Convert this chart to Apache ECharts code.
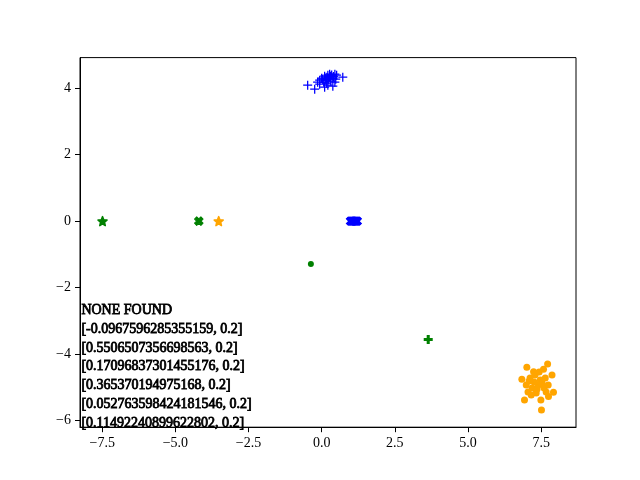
<!DOCTYPE html>
<html><head><meta charset="utf-8">
<script src="https://cdn.jsdelivr.net/npm/echarts@6/dist/echarts.min.js"></script>
<style>html,body{margin:0;padding:0;background:#fff}#c{width:640px;height:480px}</style>
</head><body><div id="c"></div>
<script>
// ---- data ----
const bluePlusX = [-0.48,-0.24,0.10,0.38,0.72,0.51,-0.07,0.00,0.10,0.21,0.27,0.34,0.45,0.14,0.24,0.31,0.07,-0.14,0.17,0.38,0.48,0.27,0.03,-0.07,0.21,0.45,0.30,0.18,0.40,0.12];
const bluePlusY = [4.09,3.97,4.03,4.06,4.33,4.39,4.24,4.30,4.36,4.39,4.42,4.40,4.42,4.24,4.27,4.21,4.18,4.18,4.15,4.30,4.27,4.33,4.27,4.12,4.09,4.18,4.36,4.33,4.35,4.28];
const blueXMarkX = [0.98,1.00,1.02,1.04,1.06,1.08,1.10,1.12,1.14,1.16,1.18,1.20,1.22];
const blueXMarkY = [0,0,0,0,0,0,0,0,0,0,0,0,0];
const orangeDotX = [7.01,7.72,7.58,7.24,7.87,6.84,7.92,6.93,7.49,7.75,7.51,7.12,7.29,7.47,7.64,7.40,7.19,7.60,7.05,7.33,7.53,7.26,7.74,6.99,7.43,7.16,7.67,7.36,7.09];
const orangeDotY = [-4.40,-4.30,-4.46,-4.53,-4.63,-4.76,-5.15,-5.38,-5.38,-5.28,-5.68,-4.72,-4.63,-4.78,-4.72,-4.93,-5.02,-5.02,-5.14,-5.17,-4.87,-4.84,-4.93,-4.93,-4.54,-5.23,-5.14,-5.05,-4.81];
const greenStar = [[-7.49, 0]];
const greenX = [[-4.20, 0]];
const orangeStar = [[-3.52, 0]];
const greenDot = [[-0.37, -1.29]];
const greenPlus = [[3.64, -3.56]];
const xTicks = [-7.5,-5,-2.5,0,2.5,5,7.5];
const yTicks = [-6,-4,-2,0,2,4];
const noteLines = ['NONE FOUND','[-0.0967596285355159, 0.2]','[0.5506507356698563, 0.2]','[0.17096837301455176, 0.2]','[0.365370194975168, 0.2]','[0.052763598424181546, 0.2]','[0.11492240899622802, 0.2]'];

const zip = (a, b) => a.map((v, i) => [v, b[i]]);

// ---- symbols ----
function starPath() {
  const pts = [];
  for (let i = 0; i < 10; i++) {
    const r = i % 2 === 0 ? 50 : 22;
    const a = -Math.PI / 2 + i * Math.PI / 5;
    pts.push((50 + r * Math.cos(a)).toFixed(2) + ',' + (50 + r * Math.sin(a)).toFixed(2));
  }
  return 'path://M' + pts.join(' L') + ' Z';
}
const STAR = starPath();
const THIN_PLUS = 'path://M0,43 L100,43 L100,57 L0,57 Z M43,0 L57,0 L57,100 L43,100 Z';
const THICK_PLUS = 'path://M33,0 L67,0 L67,33 L100,33 L100,67 L67,67 L67,100 L33,100 L33,67 L0,67 L0,33 L33,33 Z';

const FONT = '"Liberation Serif", "Times New Roman", serif';
const fmt = v => (v < 0 ? '\u2212' : '') + Math.abs(v);

const chart = echarts.init(document.getElementById('c'), null, {renderer: 'canvas'});
chart.setOption({
  animation: false,
  backgroundColor: '#fff',
  grid: {left: 80, right: 64, top: 57.6, bottom: 52.8, show: true, borderColor: '#000', borderWidth: 1, backgroundColor: 'transparent'},
  xAxis: {
    type: 'value', min: -8.26, max: 8.69,
    splitLine: {show: false},
    axisLine: {show: true, onZero: false, lineStyle: {color: '#000', width: 1}},
    axisTick: {show: true, inside: false, length: 5, lineStyle: {color: '#000'}, customValues: xTicks},
    axisLabel: {customValues: xTicks, color: '#000', fontFamily: FONT, fontSize: 14, margin: 9,
      formatter: v => (v < 0 ? '\u2212' : '') + Math.abs(v).toFixed(1)}
  },
  yAxis: {
    type: 'value', min: -6.2, max: 4.92,
    splitLine: {show: false},
    axisLine: {show: true, onZero: false, lineStyle: {color: '#000', width: 1}},
    axisTick: {show: true, inside: false, length: 5, lineStyle: {color: '#000'}, customValues: yTicks},
    axisLabel: {customValues: yTicks, color: '#000', fontFamily: FONT, fontSize: 14, margin: 9, formatter: fmt}
  },
  series: [
    {type: 'scatter', data: zip(bluePlusX, bluePlusY), symbol: THIN_PLUS, symbolSize: 9, itemStyle: {color: '#0000ff', opacity: 1}},
    {type: 'scatter', data: zip(blueXMarkX, blueXMarkY), symbol: THICK_PLUS, symbolSize: 10, symbolRotate: 45, itemStyle: {color: '#0000ff', opacity: 1}},
    {type: 'scatter', data: zip(orangeDotX, orangeDotY), symbol: 'circle', symbolSize: 7, itemStyle: {color: '#ffa500', opacity: 1}},
    {type: 'scatter', data: greenStar, symbol: STAR, symbolSize: 9, itemStyle: {color: '#008000', opacity: 1, borderColor: '#008000', borderWidth: 1.5, borderJoin: 'round'}},
    {type: 'scatter', data: greenX, symbol: THICK_PLUS, symbolSize: 9, symbolRotate: 45, itemStyle: {color: '#008000', opacity: 1, borderColor: '#008000', borderWidth: 1, borderJoin: 'round'}},
    {type: 'scatter', data: orangeStar, symbol: STAR, symbolSize: 9, itemStyle: {color: '#ffa500', opacity: 1, borderColor: '#ffa500', borderWidth: 1.5, borderJoin: 'round'}},
    {type: 'scatter', data: greenDot, symbol: 'circle', symbolSize: 6, itemStyle: {color: '#008000', opacity: 1}},
    {type: 'scatter', data: greenPlus, symbol: THICK_PLUS, symbolSize: 9, itemStyle: {color: '#008000', opacity: 1}}
  ],
  graphic: [{
    type: 'text', left: 81, top: 301, z: 100,
    style: {text: noteLines.join('\n'), font: '14px ' + FONT, fill: '#000', lineHeight: 18.77,
      stroke: '#000', lineWidth: 0.8}
  }]
});
</script>
</body></html>
